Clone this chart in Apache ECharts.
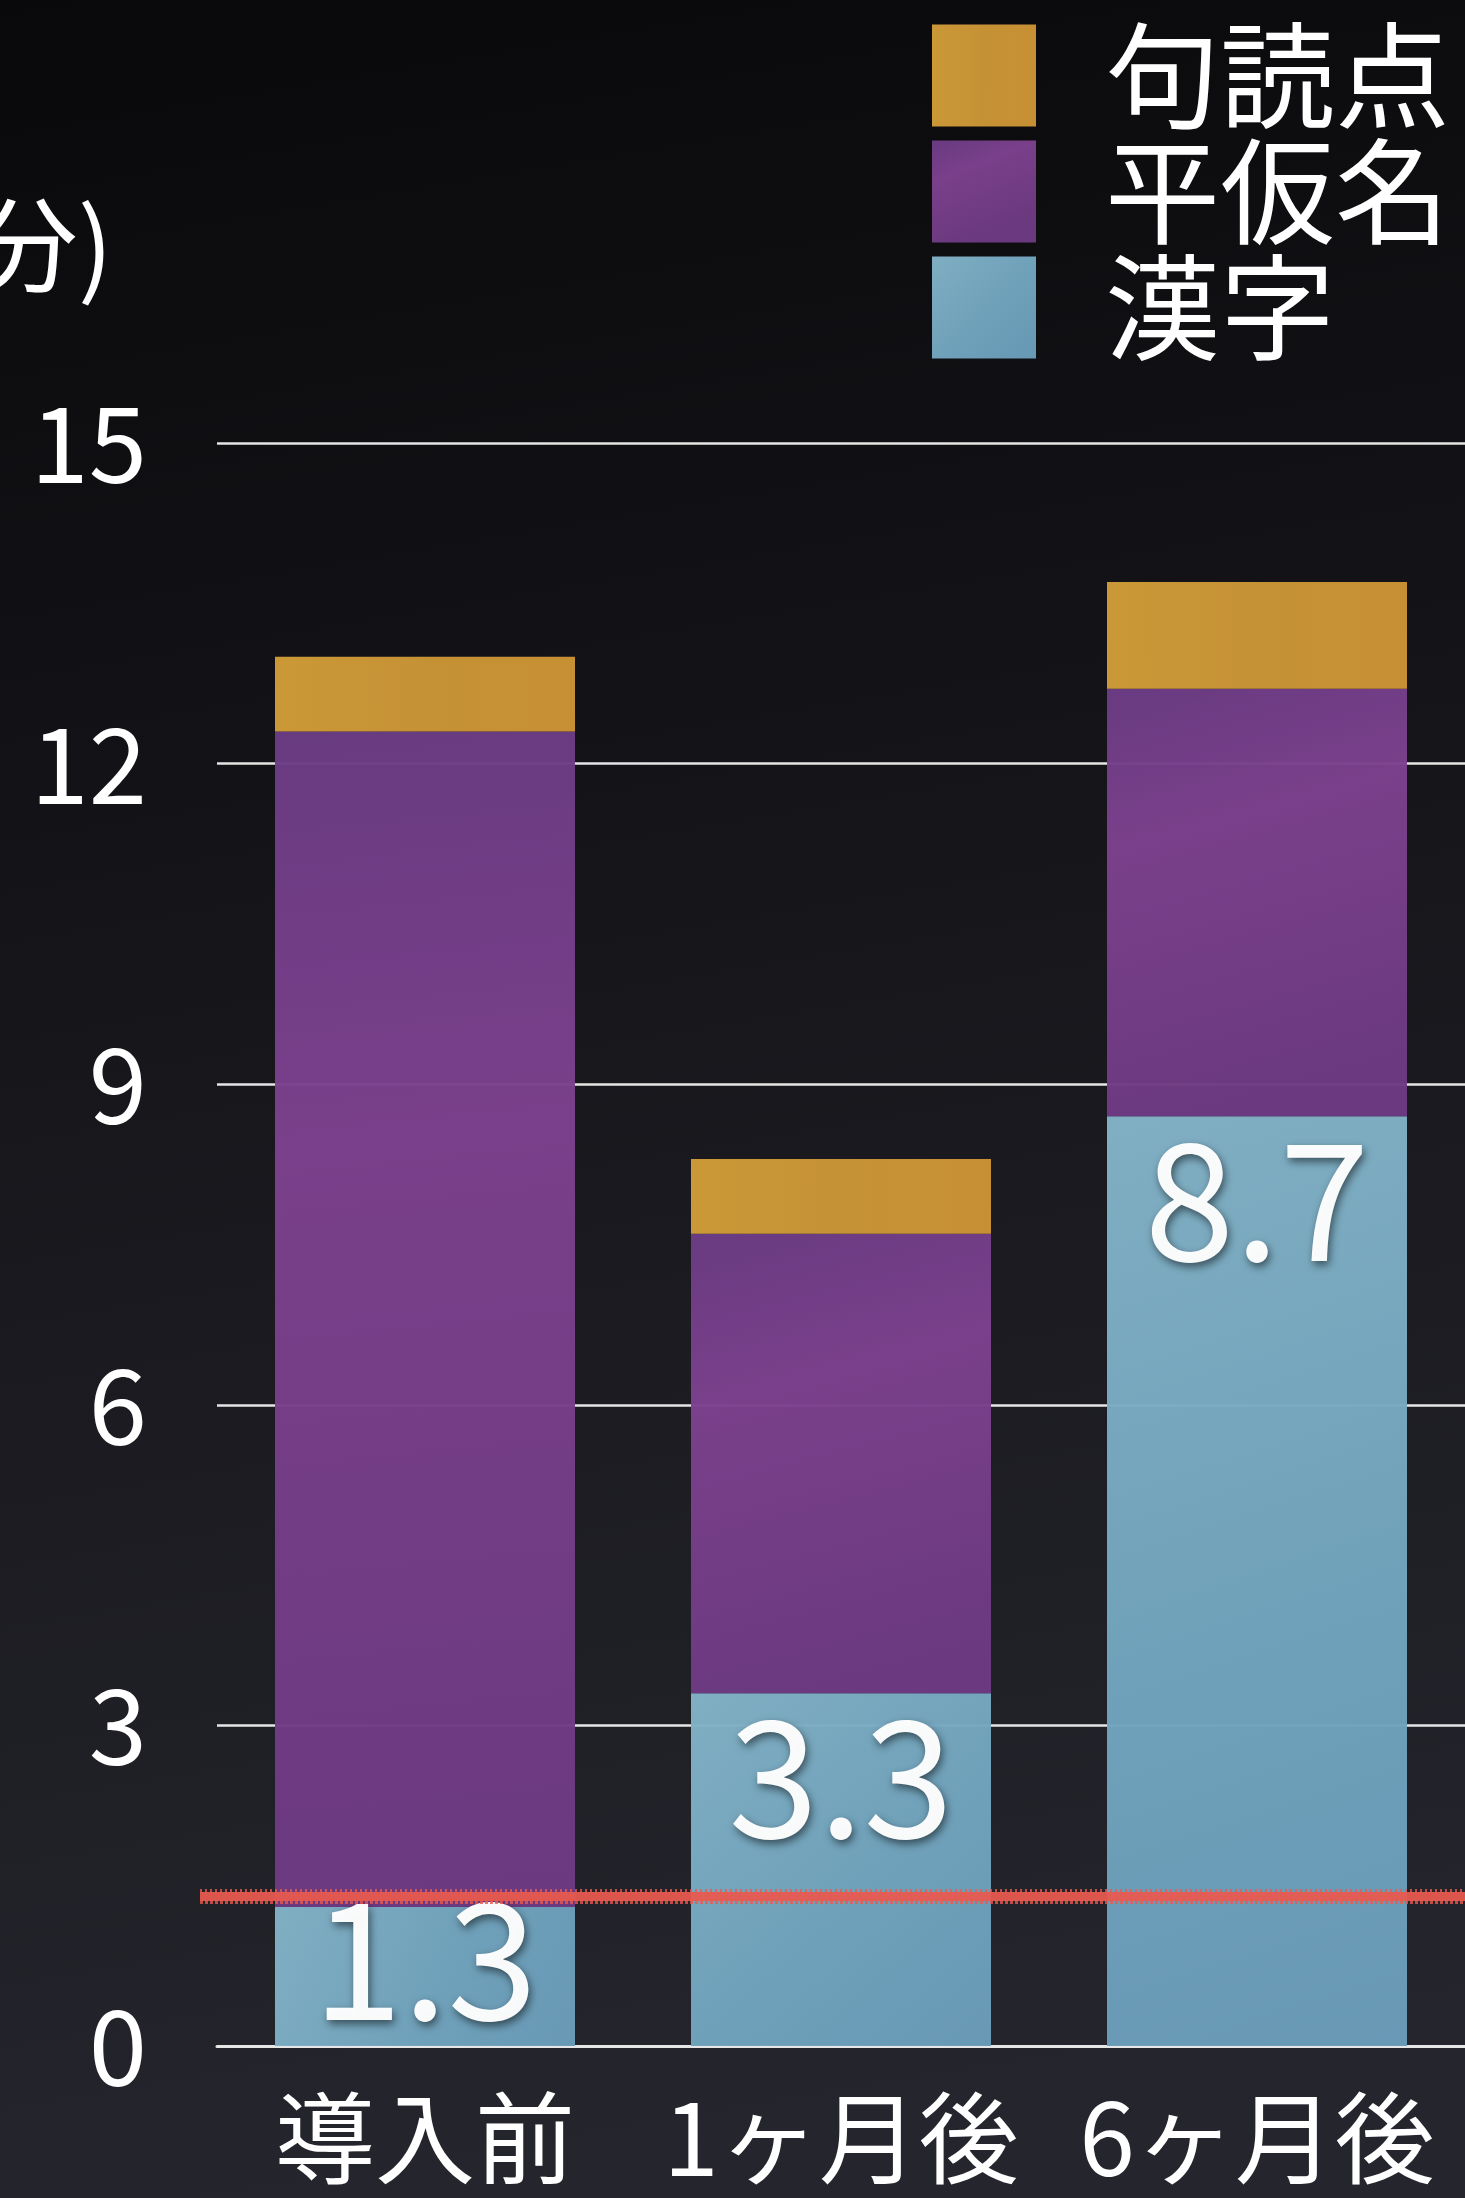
<!DOCTYPE html>
<html>
<head>
<meta charset="utf-8">
<script src="https://cdn.jsdelivr.net/npm/echarts@6/dist/echarts.min.js"></script>
<style>
html,body{margin:0;padding:0;background:#111;}
#c{width:1465px;height:2198px;}
</style>
</head>
<body>
<div id="c"></div>
<script>
// ---- data ----
const categories = ['導入前', '1ヶ月後', '6ヶ月後'];
const kanji = [1.3, 3.3, 8.7];
const hiragana = [11.0, 4.3, 4.0];
const punctuation = [0.7, 0.7, 1.0];
const seriesNames = ['漢字', '平仮名', '句読点'];
const legendOrder = ['句読点', '平仮名', '漢字'];
const yMin = 0, yMax = 15, yStep = 3;
const axisTitle = '(分)';
const referenceValue = 1.4;

// ---- styles ----
const FONT = '"Noto Sans CJK JP", "Noto Sans", sans-serif';
const colBlue = {type:'linear', x:0, y:0, x2:1, y2:1, colorStops:[
  {offset:0, color:'#83b3c8'}, {offset:0.5, color:'#73a6bf'}, {offset:1, color:'#6a9cb9'}]};
const colPurple = {type:'linear', x:0, y:0, x2:0.4, y2:1, colorStops:[
  {offset:0, color:'#6b3c84'}, {offset:0.35, color:'#7d418e'}, {offset:1, color:'#6d3a82'}]};
const colOrange = {type:'linear', x:0, y:0, x2:1, y2:0, colorStops:[
  {offset:0, color:'#cf9b38'}, {offset:0.5, color:'#c99436'}, {offset:1, color:'#cb9235'}]};

const chart = echarts.init(document.getElementById('c'), null, {renderer:'canvas'});

const redLine = (v, w, type, op) => ({
  silent: true, symbol: 'none',
  label: {show:false},
  lineStyle: {color:'#e85a4f', width:w, type:type, opacity:op},
  data: [[{yAxis: v, x: 200}, {yAxis: v, x: 1470}]]
});

// the first label sits a little higher in the original (short segment)
const kanjiData = kanji.map((v, i) => i === 0 ? {value: v, label: {offset: [0, -32]}} : v);

const option = {
  animation: false,
  backgroundColor: {type:'linear', x:0, y:0, x2:0.25, y2:1, colorStops:[
    {offset:0, color:'#09090b'}, {offset:1, color:'#25252d'}]},
  textStyle: {fontFamily: FONT},
  legend: {
    orient: 'vertical',
    left: 927, top: 13,
    itemWidth: 104, itemHeight: 102, itemGap: 1,
    icon: 'rect',
    data: legendOrder,
    textStyle: {color:'#ffffff', fontSize:115, fontFamily:FONT, padding:[0,0,0,64]}
  },
  grid: {left: 217, right: 0, top: 443, bottom: 152, containLabel: false, outerBoundsMode: 'none'},
  xAxis: {
    type: 'category',
    data: categories,
    axisTick: {show:false},
    axisLine: {show:true, lineStyle:{color:'#e6e6e6', width:3}},
    axisLabel: {color:'#ffffff', fontSize:100, fontFamily:FONT, margin:42, interval:0, hideOverlap:false}
  },
  yAxis: {
    type: 'value',
    min: yMin, max: yMax, interval: yStep,
    name: axisTitle,
    nameLocation: 'end',
    nameGap: 198,
    nameTextStyle: {color:'#ffffff', fontSize:104, fontFamily:FONT, align:'right', verticalAlign:'middle', padding:[0,104,0,0]},
    axisLine: {show:false},
    axisTick: {show:false},
    axisLabel: {color:'#ffffff', fontSize:105, fontFamily:FONT, margin:70},
    splitLine: {show:true, lineStyle:{color:'#e6e6e6', width:2.5}}
  },
  series: [
    {
      name: seriesNames[0], type:'bar', stack:'total', data: kanjiData, barWidth: 300,
      itemStyle: {color: colBlue, opacity: 0.97},
      label: {
        show: true, position: 'insideTop', distance: 2,
        color:'#ffffff', fontSize:162, fontFamily:FONT,
        textShadowColor:'rgba(0,0,0,0.55)', textShadowBlur:8, textShadowOffsetX:2, textShadowOffsetY:4
      },
      markLine: redLine(referenceValue, 9, 'solid', 0.95)
    },
    {
      name: seriesNames[1], type:'bar', stack:'total', data: hiragana, barWidth: 300,
      itemStyle: {color: colPurple, opacity: 0.97},
      markLine: redLine(referenceValue + 0.05, 4, [2, 3], 0.8)
    },
    {
      name: seriesNames[2], type:'bar', stack:'total', data: punctuation, barWidth: 300,
      itemStyle: {color: colOrange, opacity: 0.98},
      markLine: redLine(referenceValue - 0.05, 4, [3, 2], 0.8)
    }
  ]
};
chart.setOption(option);
</script>
</body>
</html>
